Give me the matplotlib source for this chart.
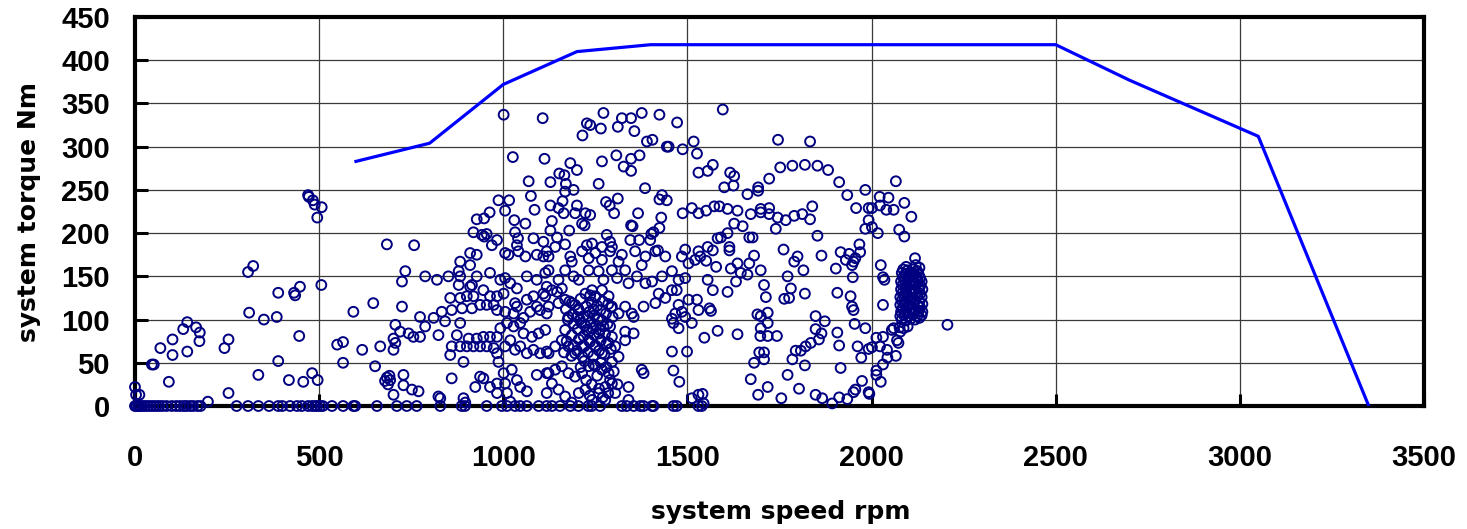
import matplotlib
matplotlib.use("Agg")
import matplotlib.pyplot as plt
import numpy as np


# full-load torque curve
CURVE_SPEED = [600, 800, 1000, 1200, 1400, 2500, 2700, 3050, 3350]
CURVE_TORQUE = [283, 304, 372, 410, 418, 418, 377, 312, 0]

# operating points sitting on the zero-torque line (rpm)
ZERO_SPEEDS = [
    0, 4, 9, 14, 20, 27, 34, 42, 50, 58, 66, 75, 86, 100, 112, 122, 132, 140,
    150, 158, 170, 178, 276, 307, 335, 364, 389, 400, 421, 440, 453, 470, 481,
    489, 495, 503, 510, 535, 565, 593, 598, 657, 711, 738, 765, 829, 887, 896,
    955, 996, 1010, 1032, 1046, 1064, 1096, 1118, 1132, 1154, 1182, 1204, 1231,
    1240, 1263, 1322, 1335, 1354, 1372, 1381, 1404, 1408, 1462, 1471, 1530, 1539,
]

# (speed rpm, torque Nm)
PTS_LOW = [
    [0, 22], [3, 13], [12, 13], [198, 5], [46, 48], [51, 48], [69, 67], [92, 28],
    [102, 77], [102, 59], [131, 89], [142, 97], [142, 63], [166, 91], [176, 85],
    [175, 75], [243, 67], [254, 77], [254, 15], [307, 155], [321, 162], [310, 108],
    [335, 36], [350, 100], [385, 103], [389, 131], [389, 52], [418, 30], [432, 131],
    [435, 128], [448, 138], [446, 81], [457, 28], [470, 244], [472, 242], [483, 238],
    [488, 233], [495, 218], [507, 230], [506, 140], [481, 38], [496, 30], [549, 71],
    [565, 74], [565, 50], [593, 109], [617, 65], [647, 119], [652, 46], [666, 69],
    [684, 187], [679, 29], [684, 33], [691, 35], [687, 25],
]

PTS_MID = [
    [910, 177], [928, 175], [1005, 177], [1014, 175], [1041, 179], [1060, 173],
    [1091, 175], [1109, 173], [1118, 179],
    [883, 167], [879, 156], [910, 163], [734, 156], [725, 144], [788, 150], [820, 146],
    [851, 150], [883, 150], [928, 150], [964, 154], [992, 146], [1005, 148], [1019, 142],
    [1037, 136], [1064, 150], [1091, 146], [1114, 154], [1118, 138],
    [879, 140], [910, 138], [915, 140], [856, 125], [883, 125], [901, 127], [919, 127],
    [946, 134], [964, 127], [983, 127], [1001, 130], [1032, 119], [1037, 115], [1064, 123],
    [1082, 127], [1109, 130], [1091, 115],
    [725, 115], [833, 109], [860, 111], [888, 113], [915, 113], [937, 117], [955, 117],
    [974, 117], [983, 111], [1005, 109], [1028, 107], [1055, 102], [1073, 109], [1100, 111],
    [1118, 107],
    [774, 103], [811, 102], [788, 92], [707, 94], [702, 78], [720, 86], [743, 84], [756, 80],
    [774, 80], [824, 82], [842, 98], [883, 96], [874, 82], [906, 78], [928, 78], [946, 80],
    [964, 80], [983, 80], [992, 90], [1010, 96], [1028, 92], [1046, 96], [1055, 84],
    [1078, 80], [1096, 84], [1114, 88],
    [860, 69], [856, 59], [883, 69], [901, 69], [919, 69], [937, 69], [955, 69], [974, 67],
    [983, 61], [987, 51], [1005, 69], [1019, 76], [1032, 65], [1046, 69], [1064, 61],
    [1082, 65], [1100, 61], [1118, 63], [892, 51], [707, 73], [702, 65],
    [729, 36], [729, 24], [752, 19], [770, 17], [824, 11], [829, 9], [860, 32], [892, 9],
    [897, 4], [924, 22], [937, 34], [946, 32], [964, 22], [983, 26], [983, 15], [1001, 38],
    [1005, 26], [1010, 15], [1019, 5], [1023, 42], [1037, 30], [1046, 22], [1064, 17],
    [1091, 36], [1118, 38], [1118, 15], [693, 30], [702, 13],
    [1001, 337], [1107, 333], [1026, 288], [1112, 286], [1069, 260], [1075, 243],
    [987, 238], [1016, 238], [1005, 226], [963, 224], [948, 217], [928, 216], [1030, 215],
    [1060, 211], [1085, 227], [919, 201], [948, 196], [942, 198], [955, 199], [983, 192],
    [969, 186], [1032, 201], [1040, 194], [1082, 194], [1109, 190], [1037, 186], [758, 186],
]

PTS_CORE = [
    [1123, 173], [1182, 173], [1186, 167], [1214, 179], [1232, 171], [1250, 177],
    [1268, 169], [1290, 179], [1313, 167], [1322, 175], [1358, 179], [1386, 173],
    [1376, 163], [1413, 179],
    [1123, 157], [1150, 146], [1168, 157], [1191, 150], [1205, 146], [1232, 157],
    [1259, 156], [1272, 146], [1295, 157], [1309, 148], [1331, 157], [1340, 142],
    [1363, 150], [1386, 142], [1404, 144], [1431, 150], [1458, 156], [1476, 146],
    [1494, 148], [1503, 165], [1521, 169], [1535, 173], [1485, 173], [1440, 173],
    [1132, 134], [1146, 132], [1159, 136], [1114, 127], [1123, 115], [1150, 119],
    [1168, 123], [1186, 119], [1205, 111], [1177, 103], [1200, 103], [1223, 130],
    [1241, 134], [1250, 127], [1268, 134], [1286, 127], [1295, 115], [1313, 107],
    [1331, 115], [1349, 107], [1354, 103], [1381, 115], [1413, 119], [1422, 130],
    [1440, 125], [1458, 134], [1471, 134], [1476, 117], [1467, 107], [1485, 109],
    [1494, 103], [1503, 123], [1526, 123], [1530, 111], [1458, 101], [1462, 96],
    [1476, 90], [1512, 96],
    [1123, 61], [1141, 69], [1159, 76], [1177, 69], [1195, 61], [1214, 69], [1232, 76],
    [1250, 69], [1268, 61], [1286, 73], [1304, 69], [1331, 86], [1354, 84], [1331, 76],
    [1313, 57], [1295, 51], [1286, 38], [1268, 42], [1250, 46], [1232, 46], [1214, 38],
    [1195, 34], [1177, 38], [1159, 46], [1141, 42], [1123, 38], [1132, 26], [1150, 19],
    [1168, 11], [1186, 4], [1205, 15], [1223, 19], [1241, 7], [1259, 15], [1277, 22],
    [1295, 26], [1304, 15], [1277, 7], [1340, 22], [1340, 7], [1376, 42], [1381, 38],
    [1458, 63], [1499, 63], [1462, 41], [1478, 28], [1512, 9], [1530, 13],
    [1210, 45], [1225, 30], [1240, 25], [1255, 35], [1265, 50], [1280, 45], [1290, 30],
    [1245, 48], [1220, 52], [1260, 20], [1235, 12], [1270, 10], [1285, 15], [1300, 40],
    [1310, 25],
]

# densest patch around 1250 rpm
BLOB_A = [
    [1165, 62], [1172, 75], [1168, 88], [1175, 100], [1170, 112], [1180, 121],
    [1185, 58], [1190, 70], [1186, 82], [1192, 95], [1188, 106], [1195, 117],
    [1200, 64], [1205, 77], [1202, 89], [1208, 100], [1204, 112], [1210, 124],
    [1215, 57], [1220, 69], [1218, 81], [1222, 93], [1218, 104], [1225, 115],
    [1230, 62], [1235, 74], [1232, 86], [1238, 97], [1234, 109], [1240, 120], [1236, 128],
    [1245, 58], [1250, 70], [1247, 82], [1252, 93], [1248, 105], [1255, 116], [1250, 126],
    [1260, 64], [1265, 76], [1262, 88], [1268, 99], [1264, 111], [1270, 121],
    [1275, 60], [1280, 72], [1277, 84], [1283, 95], [1279, 107], [1285, 118],
    [1292, 66], [1295, 80], [1290, 92], [1297, 103], [1293, 114],
    [1226, 88], [1242, 90], [1257, 100], [1212, 96], [1245, 112], [1260, 84],
    [1272, 92], [1230, 104],
]

PTS_UPPER = [
    [1272, 339], [1227, 327], [1236, 325], [1265, 321], [1215, 313], [1322, 333],
    [1347, 333], [1311, 323], [1376, 339], [1356, 318], [1424, 337], [1472, 328],
    [1390, 306], [1405, 308], [1444, 300], [1449, 300], [1487, 297], [1517, 306],
    [1526, 292],
    [1182, 281], [1200, 273], [1152, 269], [1166, 267], [1128, 259], [1170, 257],
    [1191, 250], [1268, 283], [1307, 290], [1327, 277], [1347, 286], [1370, 290],
    [1347, 272], [1259, 257], [1385, 252], [1530, 270],
    [1161, 237], [1168, 248], [1128, 232], [1150, 229], [1164, 223], [1132, 214],
    [1200, 232], [1195, 223], [1223, 223], [1236, 221], [1214, 211], [1221, 209],
    [1279, 236], [1289, 232], [1311, 240], [1301, 223], [1366, 223], [1347, 209],
    [1351, 208], [1431, 244], [1424, 239], [1444, 238], [1429, 218], [1424, 206],
    [1487, 223], [1512, 229], [1530, 223], [1128, 203], [1146, 195], [1179, 203],
    [1168, 187], [1141, 184], [1227, 186], [1241, 188], [1281, 198], [1290, 190],
    [1268, 184], [1295, 184], [1345, 192], [1369, 192], [1402, 199], [1408, 201],
    [1399, 192], [1420, 180], [1494, 181], [1530, 179],
]

PTS_HIGH = [
    [1596, 343], [1746, 308], [1833, 306], [1569, 279], [1555, 272], [1616, 270],
    [1627, 266], [1600, 253], [1625, 255], [1663, 245], [1692, 253], [1692, 249],
    [1722, 263], [1752, 276], [1785, 278], [1819, 279], [1853, 278], [1882, 273],
    [1912, 259], [1934, 244],
    [1551, 226], [1573, 231], [1587, 231], [1609, 228], [1636, 226], [1672, 222],
    [1699, 228], [1722, 229], [1699, 224], [1722, 222], [1745, 218], [1767, 215],
    [1790, 220], [1812, 222], [1839, 231], [1833, 216], [1853, 197], [1740, 205],
    [1627, 211], [1650, 208], [1668, 195], [1677, 195], [1591, 195], [1582, 194],
    [1609, 200], [1555, 184], [1569, 180], [1614, 184], [1614, 180], [1551, 168],
    [1681, 174], [1636, 165], [1668, 165], [1699, 157], [1663, 152], [1645, 154],
    [1618, 159], [1578, 161], [1555, 146], [1569, 134], [1609, 132], [1632, 144],
    [1708, 140], [1713, 126], [1763, 124], [1776, 125], [1781, 136], [1772, 150],
    [1761, 181], [1799, 173], [1790, 167], [1815, 157], [1819, 130], [1864, 174],
    [1903, 159], [1916, 178], [1930, 169], [1939, 176], [1907, 131],
    [1560, 113], [1564, 110], [1546, 79], [1582, 87], [1636, 83], [1690, 106],
    [1699, 104], [1718, 108], [1718, 96], [1699, 90], [1698, 81], [1718, 81],
    [1743, 81], [1695, 62], [1708, 62], [1681, 50], [1708, 54], [1672, 31],
    [1692, 13], [1718, 22], [1755, 9], [1772, 36], [1785, 54], [1794, 64],
    [1808, 64], [1803, 20], [1819, 47], [1821, 69], [1835, 73], [1848, 104],
    [1848, 89], [1857, 77], [1873, 98], [1864, 84], [1907, 85], [1912, 70],
    [1916, 44], [1848, 13], [1866, 9], [1893, 3], [1912, 10], [1934, 8],
    [1541, 14], [1544, 3],
]

PTS_TOP = [
    [2066, 260], [1983, 250], [1958, 229], [1992, 229], [2001, 229], [2022, 242],
    [2046, 241], [2023, 232], [2040, 227], [2060, 227], [2089, 235], [2108, 219],
    [1992, 215], [1983, 205], [2001, 207], [2017, 200], [2075, 204], [2089, 196],
    [1967, 187], [1969, 178], [1956, 171], [1947, 163], [1951, 167], [1949, 149],
    [2025, 163], [2031, 149], [2035, 146], [1943, 127], [1947, 115], [1951, 111],
    [1954, 95], [1983, 90], [2031, 117], [2118, 171], [2094, 161], [2123, 156],
    [2082, 154], [2206, 94],
    [2055, 88], [2060, 90], [2076, 91], [2087, 90], [2098, 92], [2078, 86],
    [2069, 76], [2073, 73], [2013, 79], [2031, 80], [1962, 69], [1992, 66],
    [2001, 68], [2023, 69], [2042, 65], [1972, 56], [2043, 56], [2066, 58],
    [2031, 48], [2013, 41], [2013, 36], [2025, 28], [1974, 29], [1956, 19],
    [1951, 16], [1992, 16], [1994, 14],
]

# solid cluster near 2100 rpm
BLOB_B = [
    [2082, 100], [2094, 99], [2106, 101], [2118, 100], [2130, 102],
    [2078, 104], [2088, 105], [2100, 104], [2112, 106], [2124, 104], [2136, 105],
    [2080, 109], [2092, 110], [2104, 108], [2116, 109], [2128, 110], [2138, 109],
    [2084, 113], [2096, 114], [2108, 113], [2120, 112], [2132, 114],
    [2078, 117], [2090, 118], [2102, 117], [2114, 118], [2126, 116], [2138, 118],
    [2082, 122], [2094, 121], [2106, 123], [2118, 122], [2130, 121],
    [2078, 126], [2088, 127], [2100, 126], [2112, 125], [2124, 127], [2136, 126],
    [2084, 131], [2096, 130], [2108, 132], [2120, 131], [2132, 130],
    [2080, 135], [2092, 136], [2104, 135], [2116, 134], [2128, 136], [2138, 135],
    [2084, 140], [2096, 139], [2108, 141], [2120, 140], [2132, 139],
    [2080, 144], [2090, 145], [2102, 144], [2114, 143], [2126, 145], [2136, 144],
    [2086, 149], [2098, 148], [2110, 150], [2122, 149], [2132, 148],
    [2092, 153], [2104, 154], [2116, 153], [2128, 152],
    [2098, 157], [2112, 158], [2124, 156], [2086, 158], [2130, 160], [2120, 163],
]


def main():
    pts = np.array(PTS_LOW + PTS_MID + PTS_CORE + BLOB_A + PTS_UPPER
                   + PTS_HIGH + PTS_TOP + BLOB_B, dtype=float)
    zeros = np.array(ZERO_SPEEDS, dtype=float)

    fig = plt.figure(figsize=(14.67, 5.29), dpi=100)
    ax = fig.add_axes([0.0920, 0.2325, 0.8787, 0.7353])

    ax.grid(True, color="#3a3a3a", linewidth=0.9, zorder=0)
    ax.set_axisbelow(True)

    ax.scatter(pts[:, 0], pts[:, 1], s=50, facecolors="none",
               edgecolors="#000080", linewidths=1.4, zorder=3, clip_on=False)
    ax.scatter(zeros, np.zeros_like(zeros), s=50, facecolors="none",
               edgecolors="#000080", linewidths=1.4, zorder=3, clip_on=False)
    ax.plot(CURVE_SPEED, CURVE_TORQUE, color="#0000ff", linewidth=2.3, zorder=4)

    ax.set_xlim(0, 3500)
    ax.set_ylim(0, 450)
    ax.set_xticks(np.arange(0, 3501, 500))
    ax.set_yticks(np.arange(0, 451, 50))

    for sp in ax.spines.values():
        sp.set_linewidth(3.0)
        sp.set_color("black")

    ax.tick_params(axis="both", direction="in", length=9, width=2.2, color="black")
    ax.tick_params(axis="x", pad=27)
    ax.tick_params(axis="y", pad=18)
    for lab in ax.get_xticklabels() + ax.get_yticklabels():
        lab.set_fontfamily("Liberation Sans")
        lab.set_fontweight("bold")
        lab.set_fontsize(21)

    fig.text(0.532, 0.032, "system speed rpm", ha="center", va="center",
             fontsize=18, fontweight="bold")
    fig.text(0.020, 0.600, "system torque Nm", ha="center", va="center",
             rotation=90, fontsize=18, fontweight="bold")

    fig.savefig("out.png", dpi=100)
    plt.close(fig)


if __name__ == "__main__":
    main()
